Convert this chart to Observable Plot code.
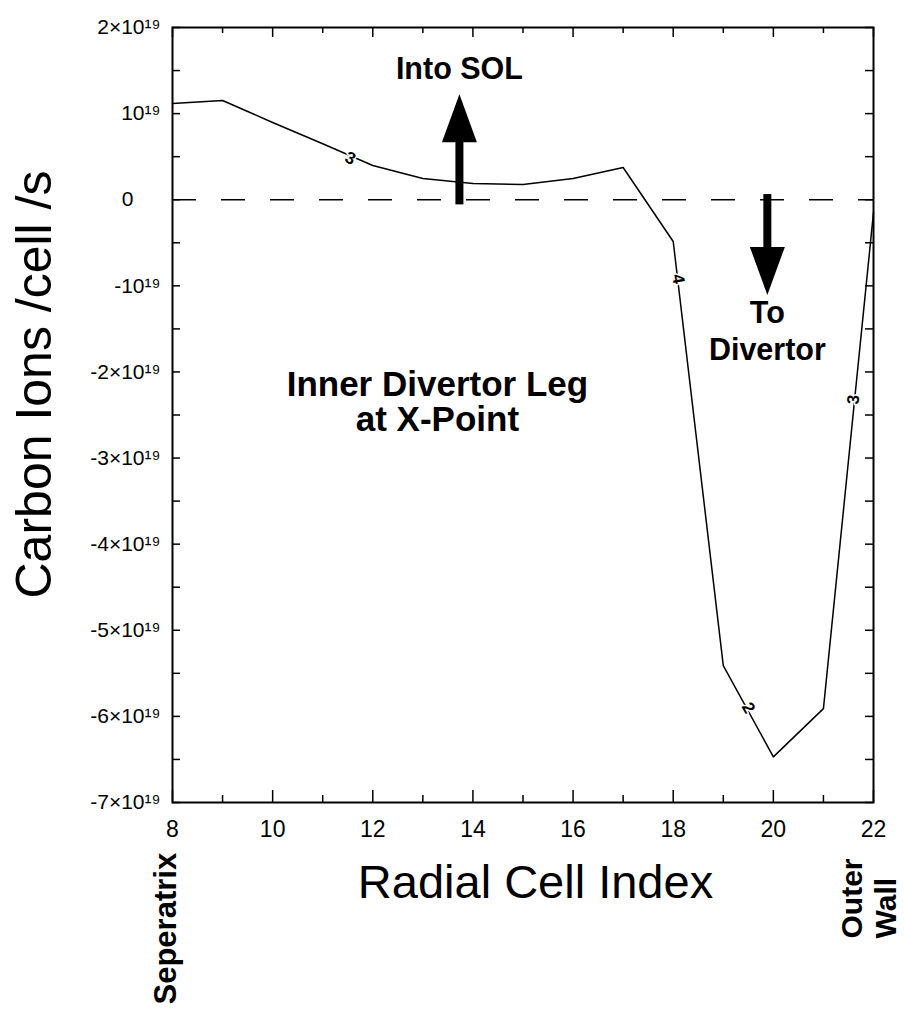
<!DOCTYPE html>
<html>
<head>
<meta charset="utf-8">
<script src="https://cdn.jsdelivr.net/npm/d3@7"></script>
<script src="https://cdn.jsdelivr.net/npm/@observablehq/plot@0.6"></script>
<style>
  html, body { margin: 0; padding: 0; background: #fff; }
</style>
</head>
<body>
<div id="chart"></div>
<script>
// Net radial carbon ion flux per cell along the inner divertor leg (X-point row)
const cellIndex  = [8, 9, 10, 11, 12, 13, 14, 15, 16, 17, 18, 19, 20, 21, 22];
const carbonFlux = [1.117e19, 1.152e19, 0.897e19, 0.65e19, 0.397e19, 0.246e19, 0.188e19,
                    0.176e19, 0.246e19, 0.374e19, -0.485e19, -5.41e19, -6.47e19, -5.91e19, -0.149e19];

// Axis ticks and labels
const xMajorTicks = [8, 10, 12, 14, 16, 18, 20, 22];
const xMinorTicks = [9, 11, 13, 15, 17, 19, 21];
const yMajorTicks = [2e19, 1e19, 0, -1e19, -2e19, -3e19, -4e19, -5e19, -6e19, -7e19];
const yTickLabels = ["2×10¹⁹", "10¹⁹", "0", "-10¹⁹", "-2×10¹⁹", "-3×10¹⁹",
                     "-4×10¹⁹", "-5×10¹⁹", "-6×10¹⁹", "-7×10¹⁹"];
const yMinorTicks = [1.5e19, 0.5e19, -0.5e19, -1.5e19, -2.5e19, -3.5e19, -4.5e19, -5.5e19, -6.5e19];

// Curve tags placed along the line
const tagText  = ["3", "4", "2", "3"];
const tagX     = [11.55, 18.1, 19.5, 21.6];
const tagY     = [0.48e19, -0.92e19, -5.9e19, -2.32e19];
const tagAngle = [25, 80, 60, -85];

// Direction arrows: tail, base of the head, and label
const arrowX        = [13.73, 19.88];
const arrowTail     = [-0.06e19, 0.06e19];
const arrowHeadBase = [0.68e19, -0.56e19];
const arrowLabel    = ["Into SOL", "To\nDivertor"];
const arrowLabelY   = [1.407e19, -1.865e19];

const width = 905, height = 1010;
const margin = {top: 27, right: 32, bottom: 208, left: 172};
const innerW = width - margin.left - margin.right;
const innerH = height - margin.top - margin.bottom;

const rows = cellIndex.map((x, i) => ({x, y: carbonFlux[i]}));
const yLabelRows = yMajorTicks.map((v, i) => ({v, label: yTickLabels[i]}));
const tagRows = tagText.map((t, i) => ({t, x: tagX[i], y: tagY[i], a: tagAngle[i]}));
const arrowRows = arrowX.map((x, i) => ({x, tail: arrowTail[i], base: arrowHeadBase[i], label: arrowLabel[i], ly: arrowLabelY[i]}));

const sans = "'Liberation Sans', Arial, Helvetica, sans-serif";
const narrow = "'Liberation Sans Narrow', 'Arial Narrow', 'Liberation Sans', Arial, sans-serif";

const headUp = {draw(ctx) { ctx.moveTo(-17.5, 1); ctx.lineTo(17.5, 1); ctx.lineTo(0, -47); ctx.closePath(); }};
const headDown = {draw(ctx) { ctx.moveTo(-17.5, -1); ctx.lineTo(17.5, -1); ctx.lineTo(0, 47); ctx.closePath(); }};

const chart = Plot.plot({
  width, height,
  marginTop: margin.top, marginRight: margin.right,
  marginBottom: margin.bottom, marginLeft: margin.left,
  style: {background: "#fff", color: "#000", fontFamily: sans, overflow: "visible"},
  x: {domain: [8, 22], axis: null},
  y: {domain: [-7e19, 2e19], axis: null},
  marks: [
    // zero flux reference
    Plot.ruleY([0], {stroke: "#000", strokeWidth: 1.5, strokeDasharray: "24 25"}),

    // inward ticks on all four sides
    Plot.tickY([...yMajorTicks, ...yMinorTicks], {y: d => d, insetRight: innerW - 8, strokeWidth: 1.5}),
    Plot.tickY([...yMajorTicks, ...yMinorTicks], {y: d => d, insetLeft: innerW - 8, strokeWidth: 1.5}),
    Plot.tickX(xMajorTicks, {x: d => d, insetTop: innerH - 12, strokeWidth: 1.5}),
    Plot.tickX(xMinorTicks, {x: d => d, insetTop: innerH - 7, strokeWidth: 1.5}),
    Plot.tickX(xMajorTicks, {x: d => d, insetBottom: innerH - 10, strokeWidth: 1.5}),
    Plot.tickX(xMinorTicks, {x: d => d, insetBottom: innerH - 6, strokeWidth: 1.5}),

    // flux profile
    Plot.line(rows, {x: "x", y: "y", stroke: "#000", strokeWidth: 1.5}),
    Plot.text(tagRows, {x: "x", y: "y", text: "t", rotate: "a", fontSize: 17, fontWeight: "bold",
      fill: "#000", stroke: "#fff", strokeWidth: 3, paintOrder: "stroke"}),

    // arrows
    Plot.ruleX(arrowRows, {x: "x", y1: "tail", y2: "base", stroke: "#000", strokeWidth: 8}),
    Plot.dot(arrowRows.filter(d => d.base > d.tail), {x: "x", y: "base", symbol: headUp, fill: "#000", stroke: null}),
    Plot.dot(arrowRows.filter(d => d.base < d.tail), {x: "x", y: "base", symbol: headDown, fill: "#000", stroke: null}),
    Plot.text(arrowRows, {x: "x", y: "ly", text: "label", fontSize: 30.5, fontWeight: "bold",
      lineAnchor: "bottom", lineHeight: 1.22, fontFamily: sans}),

    // region annotation
    Plot.text(["Inner Divertor Leg\nat X-Point"], {x: 13.29, y: -2.68e19, text: d => d, fontSize: 35,
      fontWeight: "bold", lineAnchor: "bottom", lineHeight: 1.0, fontFamily: sans}),

    // tick labels
    Plot.text(yLabelRows.filter(d => d.v !== 0), {y: "v", text: "label", frameAnchor: "left",
      textAnchor: "end", dx: -12, fontSize: 21, fontFamily: narrow}),
    Plot.text(yLabelRows.filter(d => d.v === 0), {y: "v", text: "label", frameAnchor: "left",
      textAnchor: "end", dx: -39, fontSize: 21, fontFamily: narrow}),
    Plot.text(xMajorTicks, {x: d => d, text: d => String(d), frameAnchor: "bottom",
      lineAnchor: "top", dy: 18, fontSize: 23, fontFamily: narrow}),

    // axis titles
    Plot.text(["Radial Cell Index"], {text: d => d, frameAnchor: "bottom", dx: 12.5, dy: 95,
      lineAnchor: "bottom", fontSize: 47, fontFamily: sans}),
    Plot.text(["Carbon Ions /cell /s"], {text: d => d, frameAnchor: "left", dx: -122, dy: -30.5,
      rotate: -90, textAnchor: "middle", lineAnchor: "bottom", fontSize: 50, fontFamily: sans}),

    // ends of the radial range
    Plot.text(["Seperatrix"], {text: d => d, frameAnchor: "bottom-left", dx: 3, dy: 202,
      rotate: -90, textAnchor: "start", lineAnchor: "bottom", fontSize: 31, fontWeight: "bold"}),
    Plot.text(["Outer\nWall"], {text: d => d, frameAnchor: "bottom-right", dx: 22, dy: 136,
      rotate: -90, textAnchor: "start", lineAnchor: "bottom", lineHeight: 1.12, fontSize: 30, fontWeight: "bold"}),

    Plot.frame({stroke: "#000", strokeWidth: 2})
  ]
});

document.getElementById("chart").appendChild(chart);
</script>
</body>
</html>
